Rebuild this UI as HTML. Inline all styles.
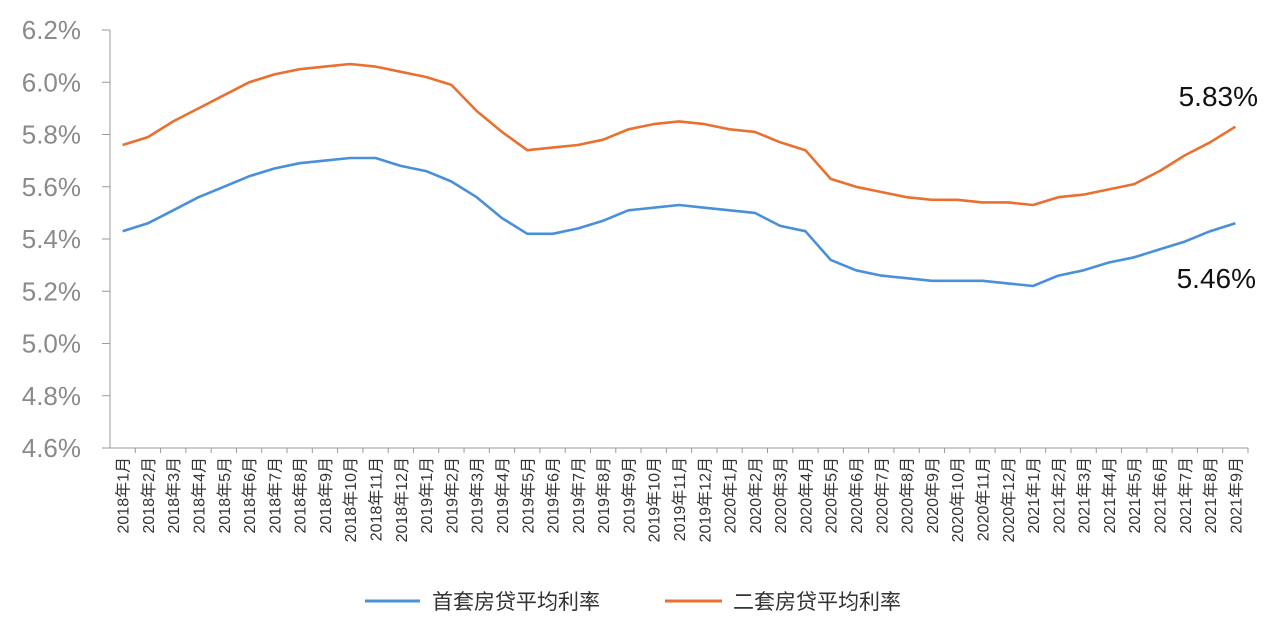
<!DOCTYPE html>
<html><head><meta charset="utf-8"><style>
html,body{margin:0;padding:0;background:#fff;}
svg{display:block;font-family:"Liberation Sans","Noto Sans CJK SC",sans-serif;}
</style></head><body>
<svg id="chart" width="1280" height="632" viewBox="0 0 1280 632" xmlns="http://www.w3.org/2000/svg">
<g id="yaxis"></g>
<g id="xaxis"></g>
<g id="series"></g>
<text x="1258" y="106" text-anchor="end" font-size="28" fill="#111">5.83%</text>
<text x="1256" y="288" text-anchor="end" font-size="28" fill="#111">5.46%</text>
<g>
<g>
<line x1="365" y1="601" x2="420" y2="601" stroke="#4a90d9" stroke-width="3"/>
<text x="432" y="609" font-size="21" fill="#333">首套房贷平均利率</text></g>
<g>
<line x1="665" y1="601" x2="722" y2="601" stroke="#ea7030" stroke-width="3"/>
<text x="733" y="609" font-size="21" fill="#333">二套房贷平均利率</text></g>
</g>
</svg>
<script>
const categories=[];
for(let y=2018;y<=2021;y++)for(let m=1;m<=12;m++){if(y===2021&&m>9)break;categories.push(y+'年'+m+'月');}
const secondHome=[5.76,5.79,5.85,5.90,5.95,6.00,6.03,6.05,6.06,6.07,6.06,6.04,6.02,5.99,5.89,5.81,5.74,5.75,5.76,5.78,5.82,5.84,5.85,5.84,5.82,5.81,5.77,5.74,5.63,5.60,5.58,5.56,5.55,5.55,5.54,5.54,5.53,5.56,5.57,5.59,5.61,5.66,5.72,5.77,5.83];
const firstHome=[5.43,5.46,5.51,5.56,5.60,5.64,5.67,5.69,5.70,5.71,5.71,5.68,5.66,5.62,5.56,5.48,5.42,5.42,5.44,5.47,5.51,5.52,5.53,5.52,5.51,5.50,5.45,5.43,5.32,5.28,5.26,5.25,5.24,5.24,5.24,5.23,5.22,5.26,5.28,5.31,5.33,5.36,5.39,5.43,5.46];
const yTicks=[4.6,4.8,5.0,5.2,5.4,5.6,5.8,6.0,6.2];
const NS='http://www.w3.org/2000/svg';
const X0=110,X1=1248,Y0=448,Y1=30,YMIN=4.6,YMAX=6.2;
const bw=(X1-X0)/categories.length;
const xs=i=>X0+bw*(i+0.5);
const ys=v=>Y0-(v-YMIN)/(YMAX-YMIN)*(Y0-Y1);
function mk(t,a,p){const e=document.createElementNS(NS,t);for(const k in a)e.setAttribute(k,a[k]);p.appendChild(e);return e;}
const ya=document.getElementById('yaxis'),xa=document.getElementById('xaxis'),sg=document.getElementById('series');
const yl=mk('line',{x1:X0,y1:Y1,x2:X0,y2:Y0,stroke:'#999','stroke-width':1},ya);


yTicks.forEach(v=>{
 const tk=mk('line',{x1:X0-8,y1:ys(v),x2:X0,y2:ys(v),stroke:'#999'},ya);
 
 
 const t=mk('text',{x:81,y:ys(v)+9,'text-anchor':'end','font-size':26,fill:'#8a8a8a'},ya);
 t.textContent=v.toFixed(1)+'%';
 
 
});
const xl=mk('line',{x1:X0-8,y1:Y0,x2:X1,y2:Y0,stroke:'#999'},xa);


categories.forEach((c,i)=>{
 const tk=mk('line',{x1:X0+bw*(i+1),y1:Y0,x2:X0+bw*(i+1),y2:Y0+5,stroke:'#999'},xa);
 
 
 const x=xs(i)+6,y=457;
 const t=mk('text',{x:x,y:y,'text-anchor':'end','font-size':16,fill:'#333',transform:`rotate(-90 ${x} ${y})`},xa);
 t.textContent=c;
 
 
});
function line(data,color,name){
 const d=data.map((v,i)=>(i?'L':'M')+xs(i).toFixed(1)+' '+ys(v).toFixed(1)).join(' ');
 const p=mk('path',{d:d,fill:'none',stroke:color,'stroke-width':2.6,'stroke-linejoin':'round'},sg);
 
 
}
line(secondHome,'#ea7030','second-home-rate-line');
line(firstHome,'#4a90d9','first-home-rate-line');
</script>
</body></html>
